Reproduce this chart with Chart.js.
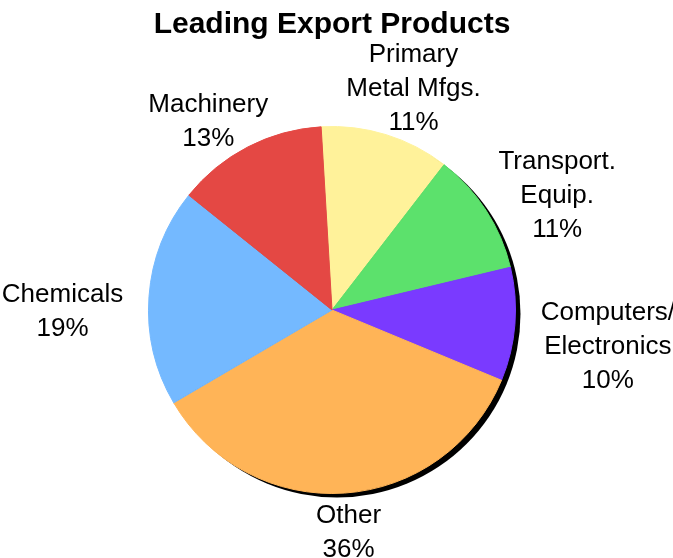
<!DOCTYPE html>
<html>
<head>
<meta charset="utf-8">
<script src="https://cdn.jsdelivr.net/npm/chart.js@4.4.1/dist/chart.umd.min.js"></script>
<style>
    html, body { margin: 0; padding: 0; background: #fff; }
</style>
</head>
<body>
<canvas id="chart" width="673" height="558"></canvas>
<script>
// Slices, clockwise from the top
const categories = [
    ['Primary', 'Metal Mfgs.'],
    ['Transport.', 'Equip.'],
    ['Computers/', 'Electronics'],
    ['Other'],
    ['Chemicals'],
    ['Machinery']
];
const shares = [11.4, 10.8, 10.0, 35.3, 19.2, 13.3];
const percentLabels = ['11%', '11%', '10%', '36%', '19%', '13%'];
const sliceColors = ['#fff29a', '#5ce16c', '#7a3aff', '#ffb457', '#74b9ff', '#e44844'];

const FONT = "'Liberation Sans', Arial, sans-serif";

// Black disc under the pie, offset down-right
const pieShadow = {
    id: 'pieShadow',
    beforeDatasetsDraw(chart, args, opts) {
        const arc = chart.getDatasetMeta(0).data[0];
        if (!arc) return;
        const ctx = chart.ctx;
        ctx.save();
        ctx.fillStyle = opts.color;
        ctx.beginPath();
        ctx.arc(arc.x + opts.dx, arc.y + opts.dy, arc.outerRadius, 0, Math.PI * 2);
        ctx.fill();
        ctx.restore();
    }
};

// Category + percent text outside each slice
const sliceLabels = {
    id: 'sliceLabels',
    afterDatasetsDraw(chart, args, opts) {
        const ctx = chart.ctx;
        const meta = chart.getDatasetMeta(0);
        ctx.save();
        ctx.font = opts.size + 'px ' + FONT;
        ctx.fillStyle = opts.color;
        ctx.textAlign = 'center';
        ctx.textBaseline = 'middle';
        meta.data.forEach((arc, i) => {
            const lines = categories[i].concat(percentLabels[i]);
            const w = Math.max(...lines.map(l => ctx.measureText(l).width));
            const h = lines.length * opts.lineHeight;
            const mid = (arc.startAngle + arc.endAngle) / 2;
            const cos = Math.cos(mid), sin = Math.sin(mid);
            // side labels sit a little lower than top/bottom ones
            const drop = opts.drop + opts.sideDrop * cos * cos;
            const cx = arc.x + cos * (arc.outerRadius + opts.padX + w / 2);
            const cy = arc.y + sin * (arc.outerRadius + opts.padY + h / 2) + drop;
            lines.forEach((l, j) => {
                ctx.fillText(l, cx, cy - h / 2 + opts.lineHeight * (j + 0.5));
            });
        });
        ctx.restore();
    }
};

new Chart(document.getElementById('chart'), {
    type: 'pie',
    data: {
        labels: categories.map(c => c.join(' ')),
        datasets: [{
            data: shares,
            backgroundColor: sliceColors,
            borderColor: sliceColors,
            borderWidth: 1,
            hoverOffset: 0
        }]
    },
    options: {
        responsive: false,
        animation: false,
        rotation: -3.4,
        layout: {
            padding: { left: 0, right: 9, top: 0, bottom: 64 }
        },
        plugins: {
            legend: { display: false },
            tooltip: { enabled: false },
            title: {
                display: true,
                text: 'Leading Export Products',
                color: '#000',
                font: { family: FONT, size: 30, weight: 'bold' },
                padding: { top: 7, bottom: 83 }
            },
            pieShadow: { color: '#000', dx: 5, dy: 4 },
            sliceLabels: { color: '#000', size: 26, lineHeight: 34, padX: 26, padY: 2, drop: 4, sideDrop: 14 }
        }
    },
    plugins: [pieShadow, sliceLabels]
});
</script>
</body>
</html>
